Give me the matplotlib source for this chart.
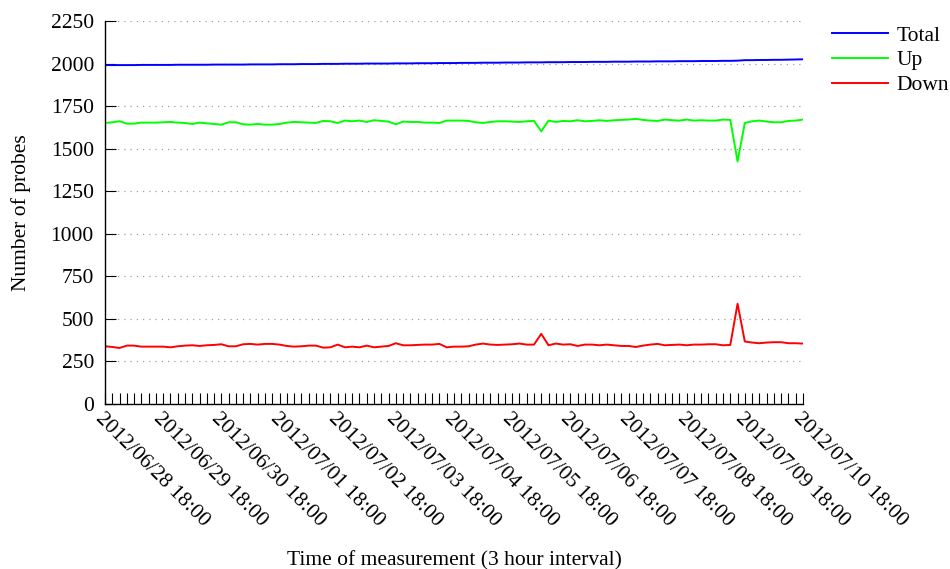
import numpy as np
import matplotlib
matplotlib.use('Agg')
import matplotlib.pyplot as plt
from matplotlib.ticker import MultipleLocator

plt.rcParams['font.family'] = ['Liberation Serif', 'DejaVu Serif']

# 3 hour samples, 2012/06/28 18:00 .. 2012/07/10 18:00
total = [1991, 1991, 1991, 1991, 1991, 1992, 1992, 1992, 1992, 1992,
         1993, 1993, 1993, 1993, 1993, 1994, 1994, 1994, 1994, 1994,
         1995, 1995, 1995, 1995, 1996, 1996, 1996, 1997, 1997, 1997,
         1998, 1998, 1998, 1999, 1999, 1999, 2000, 2000, 2000, 2000,
         2001, 2001, 2001, 2002, 2002, 2002, 2003, 2003, 2003, 2004,
         2004, 2004, 2005, 2005, 2005, 2006, 2006, 2006, 2007, 2007,
         2007, 2008, 2008, 2008, 2009, 2009, 2009, 2010, 2010, 2010,
         2011, 2011, 2011, 2012, 2012, 2012, 2013, 2013, 2013, 2014,
         2014, 2014, 2015, 2015, 2015, 2016, 2016, 2017, 2020, 2020,
         2021, 2021, 2022, 2022, 2023, 2024, 2025]

up = [1651, 1655, 1661, 1647, 1647, 1653, 1653, 1653, 1655, 1657,
      1653, 1651, 1645, 1653, 1649, 1645, 1641, 1655, 1655, 1643,
      1641, 1645, 1641, 1641, 1645, 1653, 1657, 1655, 1653, 1651,
      1663, 1661, 1651, 1665, 1661, 1665, 1657, 1667, 1663, 1659,
      1643, 1659, 1657, 1657, 1653, 1653, 1651, 1665, 1665,
      1665, 1663, 1655, 1651, 1657, 1661, 1661, 1659, 1657, 1661,
      1663, 1602, 1665, 1657, 1663, 1661, 1667, 1661, 1663, 1667,
      1663, 1667, 1669, 1671, 1675, 1669, 1665, 1663, 1671, 1667,
      1665, 1671, 1665, 1667, 1665, 1665, 1671, 1669, 1425, 1651,
      1661, 1665, 1659, 1655, 1655, 1663, 1665, 1671]

down = [339, 335, 329, 343, 343, 337, 337, 337, 337, 333,
        339, 343, 345, 341, 345, 347, 351, 339, 339, 351,
        353, 349, 353, 353, 349, 341, 337, 339, 343, 343,
        331, 333, 349, 333, 337, 333, 343, 333, 337, 341,
        357, 345, 345, 347, 349, 349, 353, 333, 337,
        337, 339, 349, 355, 349, 347, 349, 351, 355, 349,
        349, 412, 345, 355, 349, 351, 341, 349, 349, 345,
        349, 345, 341, 341, 335, 343, 349, 353, 345, 347,
        349, 345, 349, 349, 351, 351, 345, 347, 589, 367,
        361, 357, 361, 363, 363, 357, 357, 355]

tick_labels = ['2012/06/28 18:00', '2012/06/29 18:00', '2012/06/30 18:00',
               '2012/07/01 18:00', '2012/07/02 18:00', '2012/07/03 18:00',
               '2012/07/04 18:00', '2012/07/05 18:00', '2012/07/06 18:00',
               '2012/07/07 18:00', '2012/07/08 18:00', '2012/07/09 18:00',
               '2012/07/10 18:00']

x = np.arange(len(total))
fs = 15.5

fig = plt.figure(figsize=(9.5, 5.69), dpi=100)
ax = fig.add_axes([105/950, 165/569, 698/950, 383/569])

ax.plot(x, total, color='#0000ff', lw=1.4, label='Total')
ax.plot(x, up, color='#00ff00', lw=1.4, label='Up')
ax.plot(x, down, color='#ff0000', lw=1.4, label='Down')

ax.set_xlim(0, len(total) - 1)
ax.set_ylim(0, 2250)
ax.set_yticks(np.arange(0, 2251, 250))
ax.set_xticks(np.arange(0, len(total), 8))
ax.set_xticklabels(tick_labels, rotation=-45, ha='left', va='top',
                   rotation_mode='anchor')
ax.xaxis.set_minor_locator(MultipleLocator(1))
ax.tick_params(axis='both', direction='in', length=8, width=0.8,
               labelsize=fs, colors='black')
ax.tick_params(axis='x', which='both', direction='in', length=8, width=0.8, pad=4)
ax.tick_params(axis='y', pad=8)

ax.spines['top'].set_visible(False)
ax.spines['right'].set_visible(False)
ax.spines['left'].set_linewidth(1.0)
ax.spines['bottom'].set_linewidth(1.0)
ax.yaxis.grid(True, linestyle=(0, (1, 4)), color='#a0a0a0', lw=0.9)
ax.set_axisbelow(True)

ax.set_ylabel('Number of probes', fontsize=fs, labelpad=14)
ax.set_xlabel('Time of measurement (3 hour interval)', fontsize=fs, labelpad=14)

fig.legend(loc='upper left', bbox_to_anchor=(823/950, 1 - 17/569), frameon=False,
           fontsize=fs, handlelength=2.6, labelspacing=0.22, handletextpad=0.4,
           borderaxespad=0)

fig.savefig('out.png', dpi=100)
